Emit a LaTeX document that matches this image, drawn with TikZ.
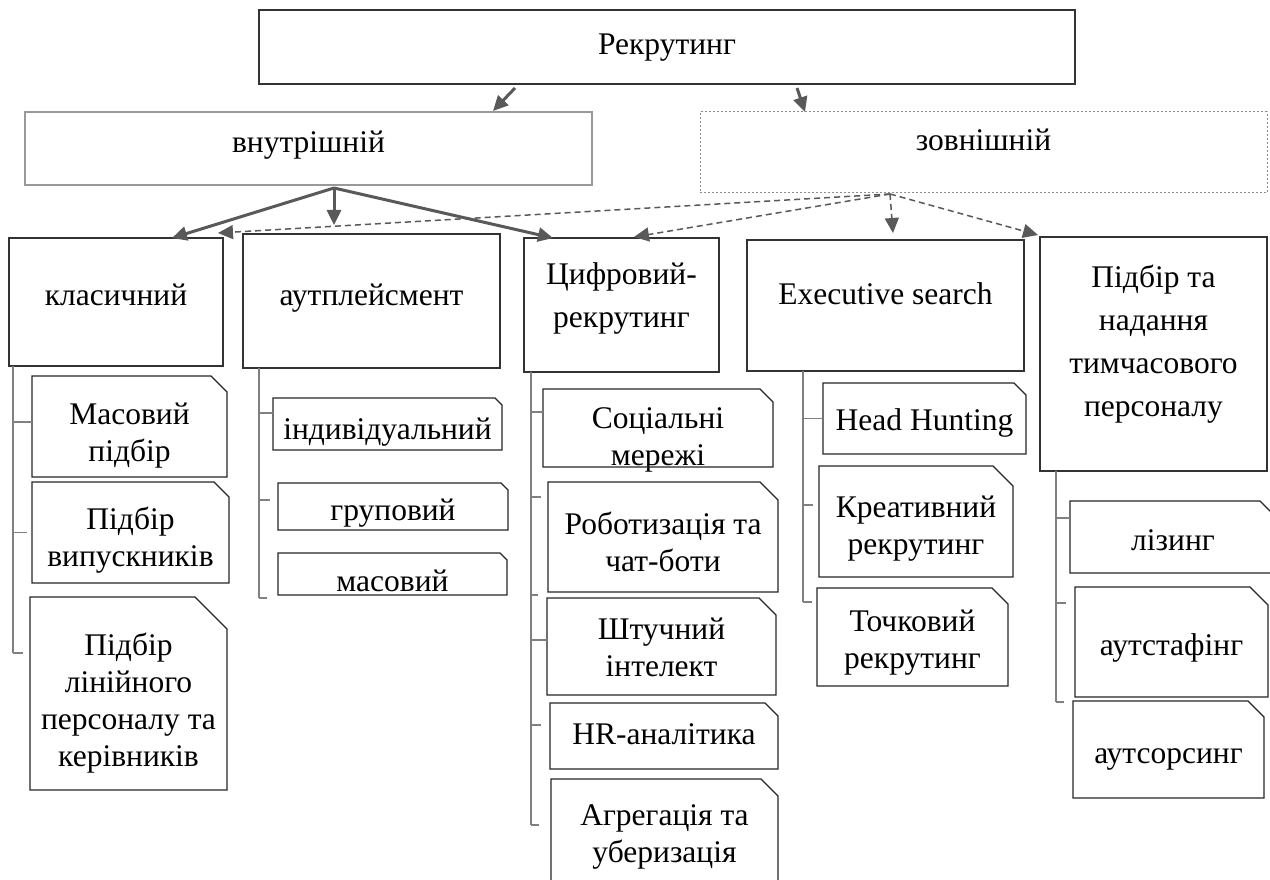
\documentclass[tikz,border=0pt]{standalone}
\usepackage{fontspec}
\setmainfont{Liberation Serif}
\usetikzlibrary{arrows.meta}
\newcommand\fsA{\fontsize{31.5}{37}\selectfont}
\newcommand\fsB{\fontsize{31.5}{43}\selectfont}
\tikzset{
 frame/.style={draw=black!80, line width=1.2pt, inner sep=0pt, outer sep=0pt},
 grayframe/.style={draw=black!40, line width=1.5pt, inner sep=0pt, outer sep=0pt},
 dotframe/.style={draw=black!45, line width=1pt, dash pattern=on 2pt off 2pt, inner sep=0pt, outer sep=0pt},
 hidden/.style={draw=none, inner sep=0pt, outer sep=0pt},
 txt/.style={font=\fsA, align=center, inner sep=0pt, text height=22pt, text depth=8pt},
 txtii/.style={txt, text height=59pt},
 txtiv/.style={txt, text height=133pt},
 txtBii/.style={txt, font=\fsB, text height=65pt},
 txtBiv/.style={txt, font=\fsB, text height=151pt},
 solidarr/.style={draw=black!65, line width=3pt, -{Triangle[length=15pt,width=14pt]}},
 dasharr/.style={draw=black!65, line width=1.5pt, dash pattern=on 6pt off 4pt, -{Triangle[length=15pt,width=14pt]}},
 treeline/.style={draw=black!50, line width=2.5pt},
 tickline/.style={draw=black!50, line width=1.5pt},
 leafline/.style={draw=black!85, line width=1.2pt, line join=miter},
}
% #1 box style, #2 name, #3 x1, #4 y1, #5 x2, #6 y2, #7 text dy, #8 text style, #9 text
\newcommand\mkbox[9]{%
 \pgfmathsetmacro\bw{#5-#3}%
 \pgfmathsetmacro\bh{#6-#4}%
 \pgfmathsetmacro\bcx{(#3+#5)/2}%
 \pgfmathsetmacro\bcy{(#4+#6)/2}%
 \pgfmathsetmacro\bty{\bcy+(#7)}%
 \node[#1, minimum width=\bw pt, minimum height=\bh pt] (#2) at (\bcx,\bcy) {};
 \node[#8] (#2-text) at (\bcx,\bty) {#9};}
% #1 name, #2 x1, #3 y1, #4 x2, #5 y2, #6 cut, #7 dy, #8 text style, #9 text
\newcommand\mkleaf[9]{%
 \mkbox{hidden}{#1}{#2}{#3}{#4}{#5}{#7}{#8}{#9}
 \draw[leafline] (#1.north west) -- ([xshift=-#6pt]#1.north east) -- ([yshift=-#6pt]#1.north east) -- (#1.south east) -- (#1.south west) -- cycle;}
% #1 tree coordinate, #2 leaf, #3 yshift, #4 length
\newcommand\mktick[4]{%
 \coordinate (#2-t) at ([yshift=#3pt]#2.west);
 \draw[tickline] (#1 |- #2-t) -- ++(#4,0);}
\begin{document}
\begin{tikzpicture}[x=1pt,y=-1pt]
\useasboundingbox (0,0) rectangle (1270,880);
\clip (0,0) rectangle (1270,880);
\fill[white] (0,0) rectangle (1270,880);

% top levels
\mkbox{frame}{rek}{259}{10}{1075}{84}{1}{txt}{Рекрутинг}
\mkbox{grayframe}{vnut}{25}{112}{592}{185}{-3}{txt}{внутрішній}
\mkbox{dotframe}{zov}{700}{112}{1267}{193}{-9}{txt}{зовнішній}

\mkbox{frame}{klas}{9}{238}{223}{366}{-4}{txt}{класичний}
\mkbox{frame}{aut}{243}{234}{500}{368}{-3}{txt}{аутплейсмент}
\mkbox{frame}{cyf}{524}{238}{719}{372}{-6}{txtBii}{Цифровий-\\рекрутинг}
\mkbox{frame}{exe}{747}{240}{1024}{371}{-8}{txt}{Executive search}
\mkbox{frame}{pid}{1040}{237}{1267}{471}{-9.5}{txtBiv}{Підбір та\\надання\\тимчасового\\персоналу}

% arrows
\draw[solidarr] ([xshift=-152pt,yshift=-4pt]rek.south) -- ([xshift=184.5pt,yshift=1pt]vnut.north);
\draw[solidarr] ([xshift=130pt,yshift=-4pt]rek.south) -- ([xshift=-178.5pt]zov.north);

\coordinate (vs) at ([xshift=25.5pt,yshift=-3pt]vnut.south);
\draw[solidarr] (vs) -- ([xshift=56pt]klas.north);
\draw[solidarr] (vs) -- ([xshift=-37.5pt,yshift=9pt]aut.north);
\draw[solidarr] (vs) -- ([xshift=-68.5pt]cyf.north);

\coordinate (zs) at ([xshift=-93.5pt,yshift=-1pt]zov.south);
\draw[dasharr] (zs) -- ([xshift=-5pt,yshift=5pt]klas.north east);
\draw[dasharr] (zs) -- ([xshift=12.5pt,yshift=1pt]cyf.north);
\draw[dasharr] (zs) -- ([xshift=7.5pt,yshift=7pt]exe.north);
\draw[dasharr] (zs) -- ([xshift=-2pt,yshift=2pt]pid.north west);

% leaves: класичний
\mkleaf{m1}{32}{376}{227}{477}{16}{9}{txtii}{Масовий\\підбір}
\mkleaf{m2}{32}{482}{229}{583}{15}{8}{txtii}{Підбір\\випускників}
\mkleaf{m3}{30}{597}{227}{790}{32}{10}{txtiv}{Підбір\\лінійного\\персоналу та\\керівників}
% аутплейсмент
\mkleaf{a1}{273}{398}{502}{450}{7}{8}{txt}{індивідуальний}
\mkleaf{a2}{278}{483}{508}{530}{7}{7}{txt}{груповий}
\mkleaf{a3}{278}{553}{507}{595}{7}{10}{txt}{масовий}
% цифровий
\mkleaf{c1}{543}{389}{773}{467}{13}{12}{txtii}{Соціальні\\мережі}
\mkleaf{c2}{548}{482}{778}{592}{18}{9}{txtii}{Роботизація та\\чат-боти}
\mkleaf{c3}{547}{598}{776}{695}{17}{4}{txtii}{Штучний\\інтелект}
\mkleaf{c4}{550}{703}{778}{769}{13}{1}{txt}{HR-аналітика}
\mkleaf{c5}{551}{779}{778}{895}{17}{0}{txtii}{Агрегація та\\уберизація}
% executive
\mkleaf{e1}{823}{383}{1026}{454}{12}{5}{txt}{Head Hunting}
\mkleaf{e2}{819}{466}{1013}{577}{20}{7}{txtii}{Креативний\\рекрутинг}
\mkleaf{e3}{817}{588}{1008}{686}{16}{6}{txtii}{Точковий\\рекрутинг}
% підбір
\mkleaf{p1}{1070}{501}{1276}{573}{16}{6}{txt}{лізинг}
\mkleaf{p2}{1075}{587}{1268}{697}{18}{6}{txt}{аутстафінг}
\mkleaf{p3}{1073}{701}{1264}{798}{16}{7}{txt}{аутсорсинг}

% trees
\coordinate (kt) at ([xshift=4pt]klas.south west);
\mktick{kt}{m1}{4.5}{19}
\mktick{kt}{m2}{0}{14}
\mktick{kt}{m3}{40.5}{10}
\draw[treeline] (kt) -- (kt |- m3-t);

\coordinate (at) at ([xshift=16pt]aut.south west);
\mktick{at}{a1}{11}{14}
\mktick{at}{a2}{6.5}{11}
\mktick{at}{a3}{-24}{8}
\draw[treeline] (at) -- (at |- a3-t);

\coordinate (ct) at ([xshift=7pt]cyf.south west);
\mktick{ct}{c1}{16}{12}
\mktick{ct}{c2}{40}{10}
\coordinate (c3-u) at ([yshift=51.5pt]c3.west);
\draw[tickline] (ct |- c3-u) -- ++(7,0);
\mktick{ct}{c3}{6.5}{16}
\mktick{ct}{c4}{11}{10}
\mktick{ct}{c5}{12}{8}
\draw[treeline] (ct) -- (ct |- c5-t);

\coordinate (et) at ([xshift=56pt]exe.south west);
\mktick{et}{e1}{0}{20}
\mktick{et}{e2}{16.5}{10}
\mktick{et}{e3}{35}{9}
\draw[treeline] (et) -- (et |- e3-t);

\coordinate (pt) at ([xshift=16pt]pid.south west);
\mktick{pt}{p1}{19}{14}
\mktick{pt}{p2}{39}{10}
\mktick{pt}{p3}{47.5}{8}
\draw[treeline] (pt) -- (pt |- p3-t);
\end{tikzpicture}
\end{document}
